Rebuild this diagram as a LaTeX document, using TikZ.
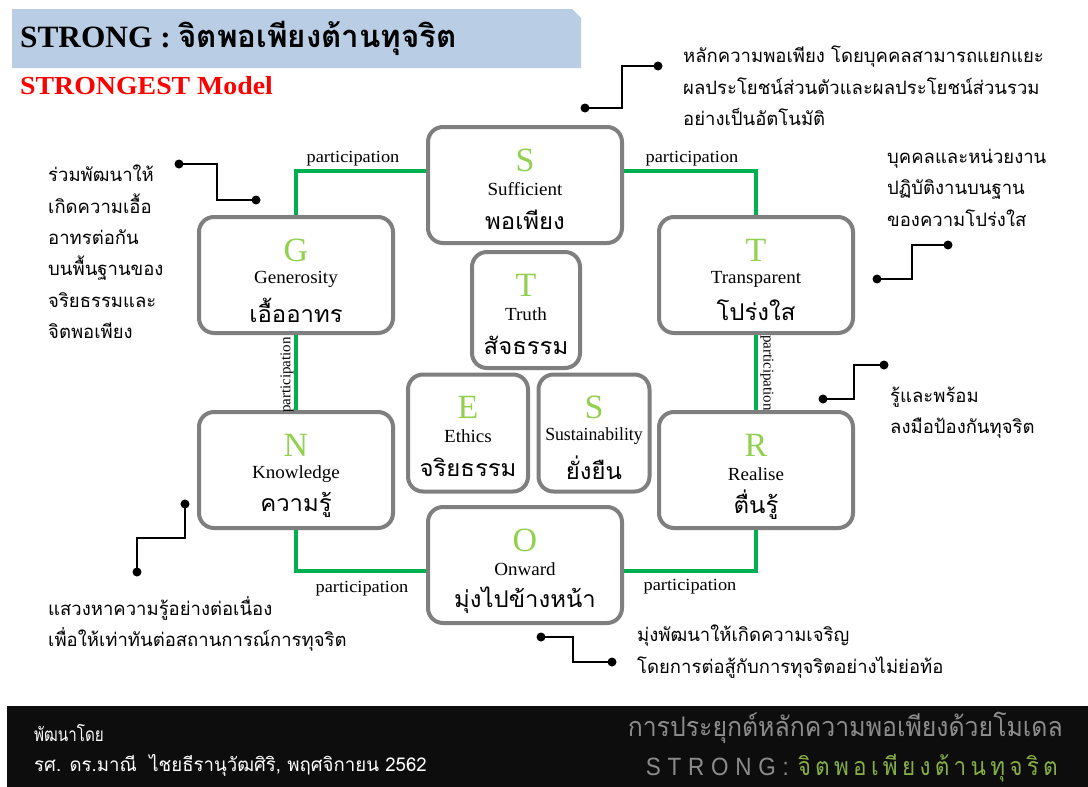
\documentclass[tikz,border=0pt]{standalone}
\usepackage{fontspec}
\setmainfont{Liberation Serif}
\newfontfamily\thai[Script=Thai]{Loma}
\newfontfamily\thaisp[Script=Thai,LetterSpace=19]{Loma}
\newfontfamily\latsp[LetterSpace=30]{Liberation Sans}
\usetikzlibrary{calc}
\definecolor{bannerblue}{HTML}{B9CDE5}
\definecolor{lettergreen}{HTML}{92D050}
\definecolor{linegreen}{HTML}{00B050}
\definecolor{boxgray}{HTML}{7F7F7F}
\definecolor{barblack}{HTML}{0D0D0D}
\definecolor{footgray}{HTML}{8C8C8C}
\definecolor{footgreen}{HTML}{86AE45}
\tikzset{
  box/.style={draw=boxgray, line width=4pt, rounded corners=15pt, fill=white, inner sep=0pt},
  bigbox/.style={box, minimum width=194pt, minimum height=116pt},
  letter/.style={text=lettergreen, font=\fontsize{34}{34}\selectfont, inner sep=0pt},
  eng/.style={font=\fontsize{18.5}{18.5}\selectfont, inner sep=0pt, xscale=1.03},
  thw/.style={font=\thai\fontsize{23}{23}\selectfont, inner sep=0pt, xscale=1.04},
  gline/.style={draw=linegreen, line width=4pt},
  part/.style={font=\fontsize{17}{17}\selectfont, inner sep=0pt, xscale=1.08},
  vpart/.style={font=\fontsize{15}{15}\selectfont, inner sep=0pt},
  aline/.style={draw=black, line width=1.5pt},
  dot/.style={circle, fill=black, inner sep=0pt, minimum size=9pt},
  anno/.style={font=\thai\fontsize{18.5}{31.3}\selectfont, align=left, inner sep=0pt, anchor=north west},
}
\begin{document}
\begin{tikzpicture}[x=1pt, y=-1pt]
\useasboundingbox (0,0) rectangle (1088,787);
\fill[white] (0,0) rectangle (1088,787);
% banner
\fill[bannerblue] (12,9) -- (572,9) -- (581,18) -- (581,68) -- (12,68) -- cycle;
\node[anchor=west, inner sep=0pt, xscale=1.01] (title) at (20,38) {\fontsize{31}{31}\selectfont\bfseries STRONG : {\thai\bfseries จิตพอเพียงต้านทุจริต}};
\node[anchor=west, inner sep=0pt, text=red, xscale=1.07] (model) at (20,86) {\fontsize{26}{26}\selectfont\bfseries STRONGEST Model};

% boxes
\node[bigbox] (S) at (525,185) {};
\node[bigbox] (G) at (296,275) {};
\node[bigbox] (T) at (756,275) {};
\node[bigbox] (N) at (296,470) {};
\node[bigbox] (R) at (756,470) {};
\node[bigbox] (O) at (525,565) {};
\node[box, minimum width=108pt, minimum height=116pt] (TT) at (526,310) {};
\node[box, minimum width=120pt, minimum height=117pt] (E) at (468,433) {};
\node[box, minimum width=111pt, minimum height=117pt] (SS) at (594,433) {};

% box contents
\foreach \b/\l/\e/\t in {S/S/Sufficient/พอเพียง, G/G/Generosity/เอื้ออาทร, T/T/Transparent/โปร่งใส, N/N/Knowledge/ความรู้, R/R/Realise/ตื่นรู้, O/O/Onward/มุ่งไปข้างหน้า, TT/T/Truth/สัจธรรม, E/E/Ethics/จริยธรรม}{
  \node[letter] (\b-l) at ($(\b.north)+(0,35)$) {\l};
  \node[eng] (\b-e) at ($(\b.north)+(0,64)$) {\e};
  \node[thw] (\b-t) at ($(\b.north)+(0,95)$) {\t};
}
\node[letter] (SS-l) at ($(SS.north)+(0,35)$) {S};
\node[eng, xscale=0.93] (SS-e) at ($(SS.north)+(0,64)$) {Sustainability};
\node[thw] (SS-t) at ($(SS.north)+(0,95)$) {ยั่งยืน};

% green connectors
\draw[gline] ($(S.west)+(0,-14)$) -| (G.north);
\draw[gline] ($(S.east)+(0,-14)$) -| (T.north);
\draw[gline] (G.south) -- (N.north);
\draw[gline] (T.south) -- (R.north);
\draw[gline] (N.south) |- ($(O.west)+(0,6)$);
\draw[gline] (R.south) |- ($(O.east)+(0,6)$);

% participation labels
\node[part] (p1) at (353,159) {participation};
\node[part] (p2) at (692,159) {participation};
\node[part] (p3) at (362,589) {participation};
\node[part] (p4) at (690,587) {participation};
\node[vpart, rotate=90] (p5) at (287,375) {participation};
\node[vpart, rotate=-90] (p6) at (767,373) {participation};

% annotations
\node[dot] (a1) at (585,108) {};
\node[dot] (a2) at (658,66) {};
\draw[aline] (a1.center) -- ++(37,0) |- (a2.center);
\node[anno] (t1) at (683,46) {หลักความพอเพียง โดยบุคคลสามารถแยกแยะ\\ผลประโยชน์ส่วนตัวและผลประโยชน์ส่วนรวม\\อย่างเป็นอัตโนมัติ};

\node[dot] (b1) at (179,164) {};
\node[dot] (b2) at (256,200) {};
\draw[aline] (b1.center) -- ++(38,0) |- (b2.center);
\node[anno] (t2) at (48,165) {ร่วมพัฒนาให้\\เกิดความเอื้อ\\อาทรต่อกัน\\บนพื้นฐานของ\\จริยธรรมและ\\จิตพอเพียง};

\node[dot] (c1) at (877,279) {};
\node[dot] (c2) at (948,245) {};
\draw[aline] (c1.center) -- ++(35,0) |- (c2.center);
\node[anno] (t3) at (887,149) {บุคคลและหน่วยงาน\\ปฏิบัติงานบนฐาน\\ของความโปร่งใส};

\node[dot] (d1) at (823,399) {};
\node[dot] (d2) at (884,365) {};
\draw[aline] (d1.center) -- ++(31,0) |- (d2.center);
\node[anno] (t4) at (890,387) {รู้และพร้อม\\ลงมือป้องกันทุจริต};

\node[dot] (e1) at (185,504) {};
\node[dot] (e2) at (137,572) {};
\draw[aline] (e1.center) -- ++(0,34) -| (e2.center);
\node[anno] (t5) at (48,596) {แสวงหาความรู้อย่างต่อเนื่อง\\เพื่อให้เท่าทันต่อสถานการณ์การทุจริต};

\node[dot] (f1) at (541,637) {};
\node[dot] (f2) at (612,662) {};
\draw[aline] (f1.center) -- ++(32,0) |- (f2.center);
\node[anno] (t6) at (637,625) {มุ่งพัฒนาให้เกิดความเจริญ\\โดยการต่อสู้กับการทุจริตอย่างไม่ย่อท้อ};

% footer
\fill[barblack] (7,706) rectangle (1088,787);
\node[anchor=west, inner sep=0pt, text=white, xscale=0.8, font=\thai\fontsize{19}{19}\selectfont] (f-a) at (34,733) {พัฒนาโดย};
\node[anchor=west, inner sep=0pt, text=white, xscale=0.98, font=\thai\fontsize{19}{19}\selectfont] (f-b) at (34,765) {รศ. ดร.มาณี\ \ ไชยธีรานุวัฒศิริ, พฤศจิกายน 2562};
\node[anchor=east, inner sep=0pt, text=footgray, xscale=0.92, font=\thai\fontsize{27}{27}\selectfont] (f-c) at (1063,728) {การประยุกต์หลักความพอเพียงด้วยโมเดล};
\node[anchor=east, inner sep=0pt, xscale=0.9, font=\fontsize{25}{25}\selectfont] (f-d) at (1058,768) {\textcolor{footgray}{\latsp STRONG:}\hspace{10pt}\textcolor{footgreen}{\thaisp จิตพอเพียงต้านทุจริต}};
\end{tikzpicture}
\end{document}
